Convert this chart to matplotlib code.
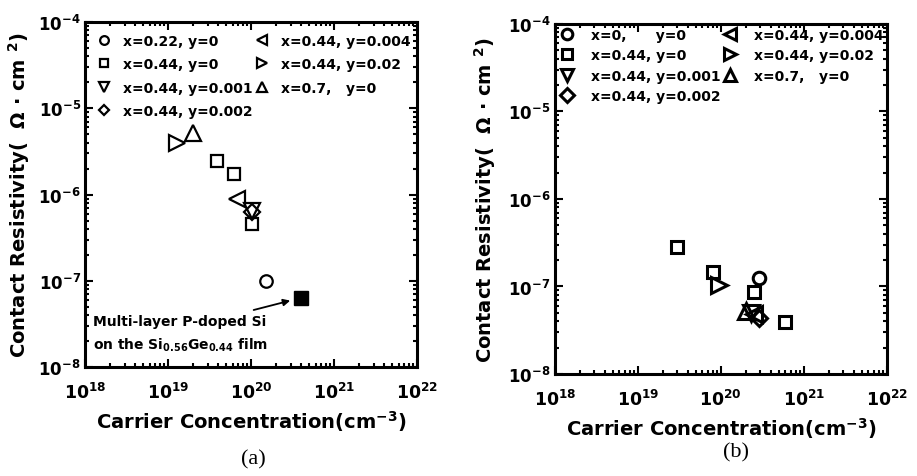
import numpy as np
import matplotlib
matplotlib.use('Agg')
import matplotlib.pyplot as plt

plt.rcParams['font.family'] = ['DejaVu Sans']
plt.rcParams['font.weight'] = 'bold'
plt.rcParams['mathtext.fontset'] = 'custom'
plt.rcParams['mathtext.rm'] = 'DejaVu Sans:bold'
plt.rcParams['mathtext.bf'] = 'DejaVu Sans:bold'
plt.rcParams['mathtext.it'] = 'DejaVu Sans:bold'

# series labels, same marker order for both panels
a_labels = ['x=0.22, y=0', 'x=0.44, y=0', 'x=0.44, y=0.001', 'x=0.44, y=0.002',
            'x=0.44, y=0.004', 'x=0.44, y=0.02', 'x=0.7,   y=0']
b_labels = ['x=0,      y=0', 'x=0.44, y=0', 'x=0.44, y=0.001', 'x=0.44, y=0.002',
            'x=0.44, y=0.004', 'x=0.44, y=0.02', 'x=0.7,   y=0']

# panel (a): carrier concentration (cm-3) and contact resistivity (ohm cm2)
a_conc = [[1.5e20], [3.9e19, 6.3e19, 1.02e20], [1.02e20], [1.02e20],
          [6.8e19], [1.3e19], [2.0e19]]
a_rho = [[1.0e-7], [2.45e-6, 1.75e-6, 4.6e-7], [6.5e-7], [6.3e-7],
         [9.0e-7], [4.0e-6], [5.2e-6]]
# multi-layer P-doped Si point
a_ml_conc = [4.0e20]
a_ml_rho = [6.3e-8]

# panel (b)
b_conc = [[2.9e20], [3.0e19, 8.0e19, 2.5e20, 5.9e20], [2.3e20], [2.9e20],
          [2.5e20], [9.5e19], [2.0e20]]
b_rho = [[1.26e-7], [2.8e-7, 1.48e-7, 8.7e-8, 3.9e-8], [5.0e-8], [4.4e-8],
         [4.8e-8], [1.04e-7], [5.3e-8]]

ytick_vals = [1e-8, 1e-7, 1e-6, 1e-5, 1e-4]
ytick_labels = [r'$10^{-8}$', r'$10^{-7}$', r'$10^{-6}$', r'$10^{-5}$', r'$10^{-4}$']
xtick_vals = [1e18, 1e19, 1e20, 1e21, 1e22]
xtick_labels = [r'$10^{18}$', r'$10^{19}$', r'$10^{20}$', r'$10^{21}$', r'$10^{22}$']

markers = ['o', 's', 'v', 'D', '<', '>', '^']
sizes = [9, 9, 11, 8, 11, 11, 11]

fig = plt.figure(figsize=(9.17, 4.77), dpi=100)
ax_a = fig.add_axes([0.0927, 0.2285, 0.362, 0.723])
ax_b = fig.add_axes([0.605, 0.2138, 0.362, 0.734])


def style(ax, ylab_x):
    ax.set_xscale('log')
    ax.set_yscale('log')
    ax.set_xlim(1e18, 1e22)
    ax.set_ylim(1e-8, 1e-4)
    for s in ax.spines.values():
        s.set_linewidth(2.2)
    ax.tick_params(which='both', direction='in', top=True, right=True, width=1.5)
    ax.tick_params(which='major', length=6)
    ax.tick_params(which='minor', length=3)
    ax.set_yticks(ytick_vals)
    ax.set_yticklabels(ytick_labels)
    ax.set_xticks(xtick_vals)
    ax.set_xticklabels(xtick_labels)
    ax.tick_params(axis='y', which='major', labelsize=12, pad=3)
    ax.tick_params(axis='x', which='major', labelsize=12.5, pad=11)
    ax.set_xlabel(r'Carrier Concentration(cm$^{-3}$)', fontsize=14, fontweight='bold', labelpad=4)
    ax.set_ylabel('Contact Resistivity(  \u03a9 \u00b7 cm $^{2}$)', fontsize=14,
                  fontweight='bold')
    ax.yaxis.set_label_coords(ylab_x, 0.5)


for ax, labels, xs, ys, mew, ylab_x in [(ax_a, a_labels, a_conc, a_rho, 1.6, -0.16),
                                        (ax_b, b_labels, b_conc, b_rho, 2.2, -0.172)]:
    style(ax, ylab_x)
    for lab, m, ms, x, y in zip(labels, markers, sizes, xs, ys):
        ax.plot(x, y, linestyle='none', marker=m, markersize=ms, markerfacecolor='none',
                markeredgecolor='black', markeredgewidth=mew, label=lab)

leg_a = ax_a.legend(loc='upper left', ncol=2, frameon=False, fontsize=10,
                    markerscale=0.7, labelspacing=0.67, handletextpad=0.8,
                    columnspacing=0.1, borderaxespad=0.45, handlelength=1.1)
leg_b = ax_b.legend(loc='upper left', ncol=2, frameon=False, fontsize=10,
                    markerscale=0.85, labelspacing=0.45, handletextpad=1.1,
                    columnspacing=0.1, borderpad=0.1, borderaxespad=0.2, handlelength=1.2)

ax_a.plot(a_ml_conc, a_ml_rho, linestyle='none', marker='s', markersize=10, color='black')
ax_a.annotate('', xy=(3.2e20, 6.0e-8), xytext=(1.0e20, 4.5e-8),
              arrowprops=dict(arrowstyle='-|>', color='black', lw=1.3, mutation_scale=10))
ax_a.text(1.25e18, 3.1e-8, 'Multi-layer P-doped Si', fontsize=10, fontweight='bold')
ax_a.text(1.25e18, 1.65e-8, r'on the Si$_{0.56}$Ge$_{0.44}$ film', fontsize=10, fontweight='bold')

fig.text(0.276, 0.035, '(a)', fontsize=16, family='Liberation Serif', ha='center', va='center',
         fontweight='normal')
fig.text(0.803, 0.05, '(b)', fontsize=16, family='Liberation Serif', ha='center', va='center',
         fontweight='normal')

fig.savefig('out.png', dpi=100)
